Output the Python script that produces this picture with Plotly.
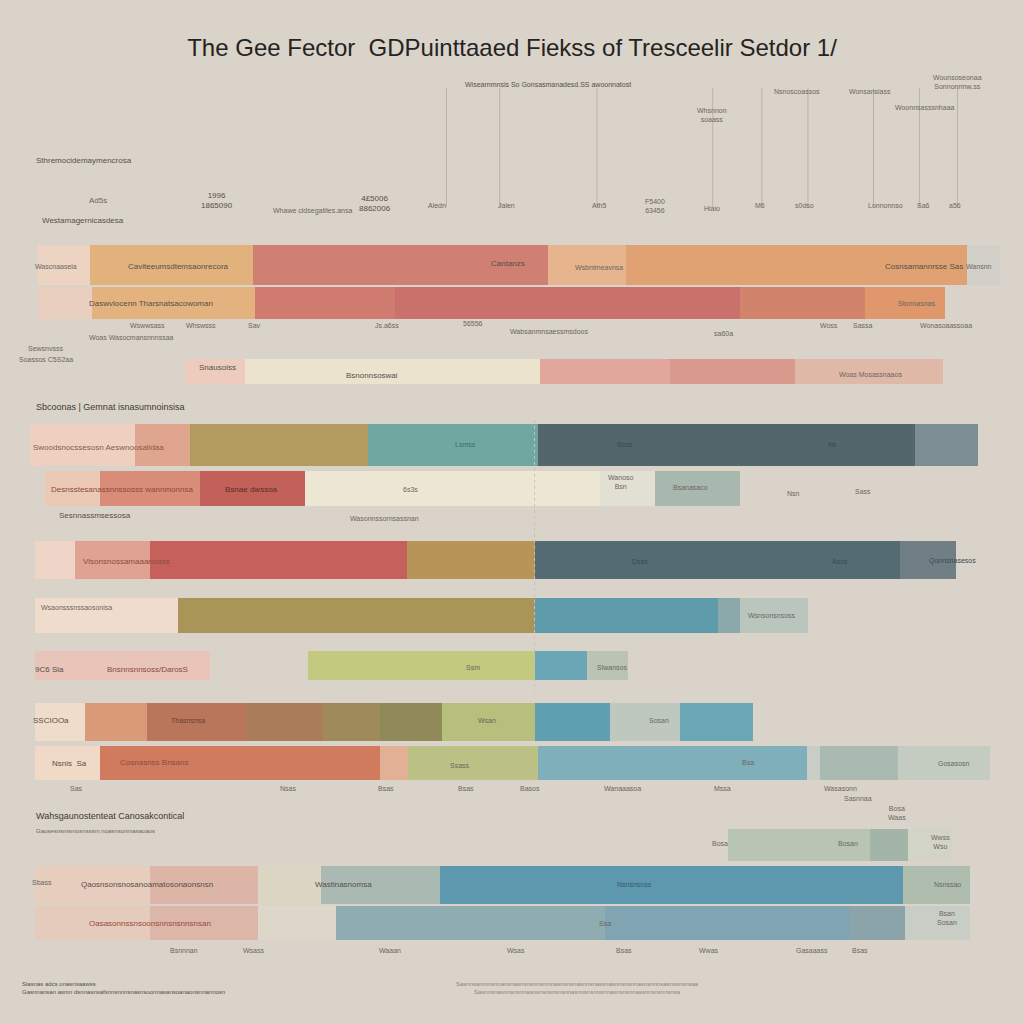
import plotly.graph_objects as go

# ---------------- data ----------------
title_text = "The Gee Fector  GDPuinttaaed Fiekss of Tresceelir Setdor 1/"

row_names = ["R1", "R2", "R3", "R4", "R5", "R6", "R7", "R8", "R9", "R10", "R11", "R12", "R13"]
row_pos = [25.9, 29.6, 36.3, 43.5, 47.7, 54.7, 60.1, 65.0, 70.5, 74.5, 82.5, 86.4, 90.1]

# cumulative segment edges per row (share scale 0-100)
row_edges = [
    [3.7, 8.8, 24.7, 53.5, 61.1, 94.4, 97.7],
    [3.7, 9.0, 24.9, 38.6, 72.3, 84.5, 92.3],
    [18.1, 23.9, 52.7, 65.4, 77.6, 92.1],
    [2.9, 13.2, 18.6, 35.9, 52.5, 89.4, 95.5],
    [4.4, 9.8, 19.5, 29.8, 58.6, 64.0, 72.3],
    [3.4, 7.3, 14.6, 39.7, 52.2, 87.9, 93.4],
    [3.4, 17.4, 52.2, 70.1, 72.3, 78.9],
    [3.4, 20.5, 30.1, 52.2, 57.3, 61.3],
    [3.4, 8.3, 14.4, 24.0, 31.5, 37.1, 43.2, 52.2, 59.6, 66.4, 73.5],
    [3.4, 9.8, 37.1, 39.8, 52.5, 78.8, 80.1, 87.7, 96.7],
    [71.1, 85.0, 88.7, 93.0],
    [3.4, 14.6, 25.2, 31.3, 43.0, 88.2, 94.7],
    [3.4, 14.6, 25.2, 32.8, 59.1, 83.0, 88.4, 94.7],
]

# ---------------- styles ----------------
row_thickness = [3.9, 3.1, 2.4, 4.1, 3.5, 3.7, 3.4, 2.9, 3.7, 3.3, 3.1, 3.7, 3.3]
row_colors = [
    ["#ecd3c2", "#e2b27c", "#cf8072", "#e6b58e", "#e0a273", "#d3cfc9"],
    ["#e9cfc0", "#e4b27e", "#cf7b6f", "#c9716a", "#d1836c", "#e0976c"],
    ["#edcbbd", "#ebe3cd", "#e1a79c", "#da998d", "#e0b8a8"],
    ["#edd0c0", "#e0a58e", "#b39a5f", "#70a7a0", "#52666b", "#7c8d94"],
    ["#ecc9b5", "#d98c77", "#c2605a", "#ece6d3", "#e2e0d2", "#a8b8ae"],
    ["#eed5c7", "#e0a393", "#c6605a", "#b89459", "#556b73", "#6f7f85"],
    ["#f0dccd", "#a99557", "#5f9cab", "#8ba9ab", "#bac6bd"],
    ["#e8c4b9", None, "#c3c97f", "#6aa6b6", "#bac3b4"],
    ["#f0dccb", "#d99a78", "#b9765a", "#aa7c5a", "#9e8a5a", "#8f8a58",
     "#b6bf7c", "#5f9fb2", "#bfc8bf", "#6aa8b8"],
    ["#f0d9c6", "#d07b5d", "#e2b094", "#bcc285", "#7fafba", "#c8cdc6", "#a9bab3", "#c4cbc0"],
    ["#b8c5b4", "#a3b5a8", "#d2d4c8"],
    ["#e6cdbd", "#dcb5a7", "#dbd5c4", "#aab9b1", "#5e98ae", "#afbdaf"],
    ["#e5cbbb", "#dcb6a8", "#dcd7c8", "#8fadb1", "#80a4b1", "#8aa4aa", "#c8cec6"],
]

BG = "#d9d3c9"
TXT = "#6b665f"

fig = go.Figure()
for r, edges in enumerate(row_edges):
    for s in range(len(edges) - 1):
        col = row_colors[r][s]
        if col is None:
            continue
        fig.add_trace(go.Bar(
            y=[row_pos[r]], x=[edges[s + 1] - edges[s]], base=[edges[s]],
            orientation="h", width=row_thickness[r],
            marker=dict(color=col, line=dict(width=0)),
            showlegend=False, hoverinfo="skip",
        ))

# faint leader lines at the top
leader_x = [43.6, 48.8, 58.3, 69.6, 74.4, 78.9, 85.3, 89.8, 93.5]
for lx in leader_x:
    fig.add_shape(type="line", x0=lx, x1=lx, y0=8.6, y1=20.2,
                  line=dict(color="#b9b3aa", width=1))
fig.add_shape(type="line", x0=52.2, x1=52.2, y0=41, y1=67.5,
              line=dict(color="#c9c2b7", width=1, dash="dot"))

# labels (text annotations)
labels = [
    (3.3, 15.7, "Sthremocidemaymencrosa", 8, "left", "#55504a"),
    (3.9, 21.5, "Westamagernicasdesa", 8, "left", "#55504a"),
    (9.6, 19.6, "Ad5s", 8, "center", TXT),
    (21.2, 19.6, "1996<br>1865090", 8, "center", "#55504a"),
    (30.5, 20.6, "Whawe cidsegatites.ansa", 7, "center", TXT),
    (36.6, 19.9, "4£5006<br>8862006", 8, "center", "#55504a"),
    (42.7, 20.1, "Aledn", 7, "center", TXT),
    (49.5, 20.1, "Jalen", 7, "center", TXT),
    (53.5, 8.3, "Wisearnmnsis So Gonsasmanadesd.SS awoonnatost", 7, "center", "#55504a"),
    (58.5, 20.1, "Ath5", 7, "center", TXT),
    (64.0, 20.1, "F5400<br>63456", 7, "center", TXT),
    (69.5, 11.2, "Whsnnon<br>soaass", 7, "center", TXT),
    (69.5, 20.4, "Hiaio", 7, "center", TXT),
    (74.2, 20.1, "M6", 7, "center", TXT),
    (78.6, 20.1, "s0dso", 7, "center", TXT),
    (77.8, 8.9, "Nsnoscoassos", 7, "center", TXT),
    (85.0, 8.9, "Wonsansiass", 7, "center", TXT),
    (86.5, 20.1, "Lonnonnso", 7, "center", TXT),
    (90.2, 20.1, "Sa6", 7, "center", TXT),
    (93.3, 20.1, "a56", 7, "center", TXT),
    (93.5, 8.0, "Wounsoseonaa<br>Sonnonrmw.ss", 7, "center", TXT),
    (90.3, 10.5, "Woonnsasssnhaaa", 7, "center", TXT),
    (5.5, 26.0, "Wascnaaseia", 7, "center", TXT),
    (17.4, 26.0, "Caviteeumsdtemsaonrecora", 8, "center", "#55504a"),
    (49.6, 25.7, "Cantanzs", 8, "center", "#55504a"),
    (58.5, 26.1, "Wsbntmeavnsa", 7, "center", TXT),
    (90.2, 26.0, "Cosnsamannrsse Sas", 8, "center", "#55504a"),
    (95.6, 26.0, "Wansnn", 7, "center", TXT),
    (14.7, 29.6, "Daswviocenn Tharsnatsacowoman", 8, "center", "#55504a"),
    (89.5, 29.6, "Stonnasnas", 7, "center", TXT),
    (14.4, 31.8, "Wswwsass", 7, "center", TXT),
    (19.6, 31.8, "Whswsss", 7, "center", TXT),
    (24.9, 31.8, "Sav", 7, "center", TXT),
    (37.8, 31.8, "Js.a6ss", 7, "center", TXT),
    (46.2, 31.6, "56556", 7, "center", TXT),
    (53.6, 32.4, "Wabsanmnsaessmsdoos", 7, "center", TXT),
    (70.7, 32.6, "sa60a", 7, "center", TXT),
    (81.0, 31.8, "Woss", 7, "center", TXT),
    (84.3, 31.8, "Sassa", 7, "center", TXT),
    (92.4, 31.8, "Wonasoaassoaa", 7, "center", TXT),
    (4.5, 34.0, "Sewsnvsss", 7, "center", TXT),
    (12.8, 33.0, "Woas Wasocmansnnnssaa", 7, "center", TXT),
    (4.5, 35.1, "Soassos C5S2aa", 7, "center", TXT),
    (21.2, 35.9, "Snausoiss", 8, "center", "#55504a"),
    (36.3, 36.7, "Bsnonnsoswai", 8, "center", "#55504a"),
    (85.0, 36.6, "Woas Mosassnaaos", 7, "center", TXT),
    (3.3, 39.7, "Sbcoonas | Gemnat isnasumnoinsisa", 9, "left", "#3e3a35"),
    (9.6, 43.7, "Swoodsnocssesosn Aeswnoosalidaa", 8, "center", "#8a5b50"),
    (45.5, 43.4, "Lsmss", 7, "center", "#3f6e6e"),
    (61.0, 43.4, "Bsos", 7, "center", "#3a4a50"),
    (81.3, 43.4, "Ns", 7, "center", "#3a4a50"),
    (11.9, 47.8, "Desnsstesanassnnssosss wannmonnsa", 8, "center", "#8a4a44"),
    (24.6, 47.8, "Bsnae dwssoa", 8, "center", "#5a2f2a"),
    (40.1, 47.8, "6s3s", 7, "center", TXT),
    (60.6, 47.1, "Wanoso<br>Bsn", 7, "center", TXT),
    (67.4, 47.6, "Bsanasaco", 7, "center", TXT),
    (77.5, 48.2, "Nsn", 7, "center", TXT),
    (84.3, 48.0, "Sass", 7, "center", TXT),
    (9.3, 50.3, "Sesnnassmsessosa", 8, "center", "#55504a"),
    (37.5, 50.6, "Wasonnssornsassnan", 7, "center", TXT),
    (12.4, 54.8, "Vlsonsnossamaaanoass", 8, "center", "#8a4a44"),
    (62.5, 54.8, "Dsas", 7, "center", "#3a4a50"),
    (82.0, 54.8, "Asos", 7, "center", "#3a4a50"),
    (93.0, 54.8, "Qonnsnasesos", 7, "center", "#3a4a50"),
    (7.5, 59.3, "Wsaonsssnssaosonisa", 7, "center", TXT),
    (75.4, 60.1, "Wsnsonsnsoss", 7, "center", TXT),
    (4.8, 65.4, "9C6 Sia", 8, "center", "#55504a"),
    (14.4, 65.4, "Bnsnnsnnsoss/DarosS", 8, "center", "#8a4a44"),
    (46.2, 65.2, "Ssm", 7, "center", TXT),
    (59.8, 65.2, "Slwansos", 7, "center", TXT),
    (5.0, 70.4, "SSCIOOa", 8, "center", "#55504a"),
    (18.4, 70.4, "Thasnsnsa", 7, "center", "#6a3e30"),
    (47.6, 70.4, "Wsan", 7, "center", TXT),
    (64.4, 70.4, "Sosan", 7, "center", TXT),
    (6.8, 74.6, "Nsnis  Sa", 8, "center", "#55504a"),
    (15.0, 74.5, "Cosnasnss Bnsans", 8, "center", "#8a4a44"),
    (44.9, 74.8, "Ssass", 7, "center", TXT),
    (73.0, 74.5, "Bsa", 7, "center", TXT),
    (93.2, 74.6, "Gosasosn", 7, "center", TXT),
    (7.5, 77.0, "Sas", 7, "center", TXT),
    (28.1, 77.0, "Nsas", 7, "center", TXT),
    (37.7, 77.0, "Bsas", 7, "center", TXT),
    (45.5, 77.0, "Bsas", 7, "center", TXT),
    (51.8, 77.0, "Basos", 7, "center", TXT),
    (60.8, 77.0, "Wanaaasoa", 7, "center", TXT),
    (70.6, 77.0, "Mssa", 7, "center", TXT),
    (82.1, 77.0, "Wasasonn", 7, "center", TXT),
    (83.8, 78.0, "Sasnnaa", 7, "center", TXT),
    (3.3, 79.7, "Wahsgaunostenteat Canosakcontical", 9, "left", "#3e3a35"),
    (3.3, 81.2, "Gaosesnsmsmosnsssm noasnsonmasaoaos", 6, "left", TXT),
    (87.6, 79.4, "Bosa<br>Waas", 7, "center", TXT),
    (70.3, 82.4, "Bosa", 7, "center", TXT),
    (82.8, 82.4, "Bosan", 7, "center", TXT),
    (91.8, 82.2, "Wwss<br>Wso", 7, "center", TXT),
    (4.1, 86.2, "Sbass", 7, "center", TXT),
    (14.4, 86.4, "Qaosnsonsnosanoamatosonaonsnsn", 8, "center", "#55504a"),
    (33.5, 86.4, "Wastinasnomsa", 8, "center", "#55504a"),
    (62.0, 86.4, "Nsnsnsnss", 7, "center", "#3a5a66"),
    (92.5, 86.4, "Nsnssao", 7, "center", TXT),
    (14.6, 90.2, "Oasasonnssnsoonsnnsnsnnsnsan", 8, "center", "#9a4a40"),
    (59.1, 90.2, "Ssa", 7, "center", TXT),
    (92.5, 89.6, "Bsan<br>Sosan", 7, "center", TXT),
    (18.0, 92.8, "Bsnnnan", 7, "center", TXT),
    (24.8, 92.8, "Wsass", 7, "center", TXT),
    (38.1, 92.8, "Waaan", 7, "center", TXT),
    (50.4, 92.8, "Wsas", 7, "center", TXT),
    (60.9, 92.8, "Bsas", 7, "center", TXT),
    (69.2, 92.8, "Wwas", 7, "center", TXT),
    (79.3, 92.8, "Gasaaass", 7, "center", TXT),
    (84.0, 92.8, "Bsas", 7, "center", TXT),
    (2.0, 96.5, "Siasnas adcs onasnsaawss<br>Gasnnansan asnm dsnnasnsafsnnsnnnsnasnsoonnasansoanaonsnnannosn", 6, "left", "#55504a"),
    (56.4, 96.5, "Sasnnsanmnsnnansnasnsnsnnsnmnasnsnsnasnnsnassnasnnsnsnnasnsnnnsasnssnsnsaa<br>Sasnnsnasnnsnsnnasnsnsnsnsnsnnasnnsnsnnsnnasnsnsnnassnnsnsnnsnsa", 6, "center", "#8a857d"),
]
for (ax, ay, t, sz, al, c) in labels:
    fig.add_annotation(x=ax, y=ay, text=t, showarrow=False, xanchor=al, align=al,
                       yanchor="middle", font=dict(size=sz, color=c,
                       family="Liberation Sans, Arial, sans-serif"))

fig.update_layout(
    width=1024, height=1024,
    paper_bgcolor=BG, plot_bgcolor=BG,
    margin=dict(l=0, r=0, t=0, b=0),
    barmode="overlay", bargap=0,
    title=dict(text=title_text, x=0.5, y=0.954, xanchor="center", yanchor="middle",
               font=dict(size=24, color="#25231f", family="Liberation Sans, Arial, sans-serif")),
    xaxis=dict(range=[0, 100], visible=False, fixedrange=True),
    yaxis=dict(range=[100, 0], visible=False, fixedrange=True),
)

fig.write_html("out.html")
